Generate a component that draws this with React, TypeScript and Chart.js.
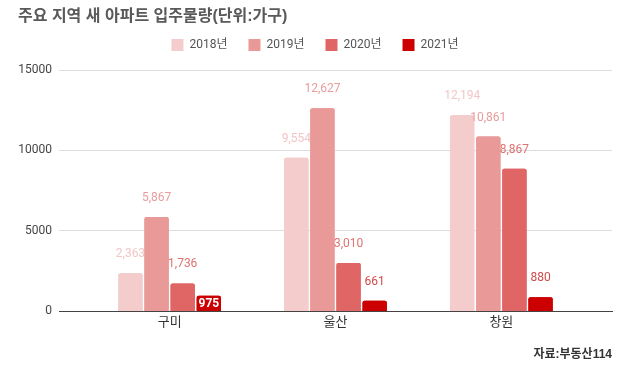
import React, { useEffect, useRef } from 'react';
import { Chart, registerables } from 'chart.js';

Chart.register(...registerables);

const categories = ['구미', '울산', '창원'];
const seriesNames = ['2018년', '2019년', '2020년', '2021년'];
const v2018 = [2363, 9554, 12194];
const v2019 = [5867, 12627, 10861];
const v2020 = [1736, 3010, 8867];
const v2021 = [975, 661, 880];
const yTickValues = [0, 5000, 10000, 15000];
const titleText = '주요 지역 새 아파트 입주물량(단위:가구)';
const sourceText = '자료:부동산114';

const barColors = ['#f4cccc', '#ea9999', '#e06666', '#cc0000'];
const labelColors = ['#f2c6c6', '#e99c9c', '#e07272', '#d24a4a'];
const insideLabel = [[false, false, false], [false, false, false], [false, false, false], [true, false, false]];

const FONT = "Roboto, 'Noto Sans CJK KR', sans-serif";
const TITLE_FONT = "'Liberation Sans', Arial, 'Noto Sans CJK KR', sans-serif";
const LEGEND_EXTRA = 9;

const legendSpacer = {
  id: 'legendSpacer',
  beforeLayout(chart: any) {
    const lg = chart.legend;
    if (lg && !lg.__spaced) {
      const orig = lg.fit.bind(lg);
      lg.fit = function () {
        orig();
        this.height += LEGEND_EXTRA;
      };
      lg.__spaced = true;
    }
  },
};

const labelPlugin = {
  id: 'barLabels',
  afterDatasetsDraw(chart: any) {
    const ctx = chart.ctx;
    ctx.save();
    const n = chart.data.datasets.length;
    for (let d = 0; d < n; d++) {
      const meta = chart.getDatasetMeta(d);
      meta.data.forEach((el: any) => el.draw(ctx));
      meta.data.forEach((el: any, i: number) => {
        const raw = chart.data.datasets[d].data[i];
        const val = typeof raw === 'number' ? raw : raw.y;
        const txt = val.toLocaleString('en-US');
        const p = el.getProps(['x', 'y', 'base'], true);
        ctx.textAlign = 'center';
        ctx.textBaseline = 'middle';
        if (insideLabel[d][i]) {
          ctx.font = `bold 12px ${FONT}`;
          ctx.fillStyle = '#ffffff';
          ctx.fillText(txt, p.x, (p.y + p.base) / 2 + 1);
        } else {
          ctx.font = `12px ${FONT}`;
          ctx.fillStyle = labelColors[d];
          ctx.fillText(txt, p.x, p.y - 19);
        }
      });
    }
    ctx.restore();
  },
};

export default function App() {
  const ref = useRef<HTMLCanvasElement>(null);
  useEffect(() => {
    document.body.style.margin = '0';
    const series = [v2018, v2019, v2020, v2021];
    const chart = new Chart(ref.current!, {
      type: 'bar',
      data: {
        datasets: series.map((vals, d) => ({
          label: seriesNames[d],
          data: vals.map((v, i) => ({ x: i, y: v })),
          backgroundColor: barColors[d],
          borderWidth: 0,
          borderRadius: { topLeft: 2, topRight: 2, bottomLeft: 0, bottomRight: 0 },
          borderSkipped: 'bottom',
          categoryPercentage: 0.63,
          barPercentage: 0.93,
        })),
      },
      options: {
        responsive: false,
        animation: false,
        devicePixelRatio: 1,
        layout: { padding: { left: 18, right: 18, top: 0, bottom: 0 } },
        plugins: {
          title: {
            display: true,
            text: titleText,
            align: 'start',
            color: '#595959',
            font: { size: 16, weight: 'bold', family: TITLE_FONT, lineHeight: 1.2 },
            padding: { top: 7.4, bottom: -8.6 },
          },
          subtitle: {
            display: true,
            text: sourceText,
            position: 'bottom',
            align: 'end',
            color: '#333333',
            font: { size: 12, weight: 'bold', family: TITLE_FONT, lineHeight: 1.2 },
            padding: { top: 12.8, bottom: 17.8 },
          },
          legend: {
            display: true,
            position: 'top',
            align: 'center',
            labels: {
              boxWidth: 12,
              boxHeight: 12,
              padding: 21,
              color: '#555555',
              font: { size: 12, family: FONT },
            },
          },
          tooltip: { enabled: false },
        },
        scales: {
          x: {
            type: 'linear',
            min: -0.667,
            max: 2.667,
            offset: false,
            grid: { display: false, offset: false, drawTicks: false },
            border: { display: true, color: '#444444', width: 1 },
            afterBuildTicks: (s: any) => {
              s.ticks = categories.map((_, i) => ({ value: i }));
            },
            ticks: {
              autoSkip: false,
              maxRotation: 0,
              padding: 4,
              color: '#333333',
              font: { size: 13, family: FONT },
              callback: (v: any) => categories[v as number] ?? '',
            },
          },
          y: {
            min: 0,
            max: 15000,
            afterBuildTicks: (s: any) => {
              s.ticks = yTickValues.map((v) => ({ value: v }));
            },
            afterFit: (s: any) => {
              s.width = 41;
            },
            grid: { color: '#dddddd', drawTicks: false },
            border: { display: false },
            ticks: {
              padding: 7,
              color: '#444444',
              font: { size: 12, family: FONT },
              callback: (v: any) => String(v),
            },
          },
        },
      },
      plugins: [legendSpacer, labelPlugin],
    } as any);
    return () => chart.destroy();
  }, []);
  return (
    <div style={{ width: 630, height: 380 }}>
      <canvas ref={ref} width={630} height={380} />
    </div>
  );
}
